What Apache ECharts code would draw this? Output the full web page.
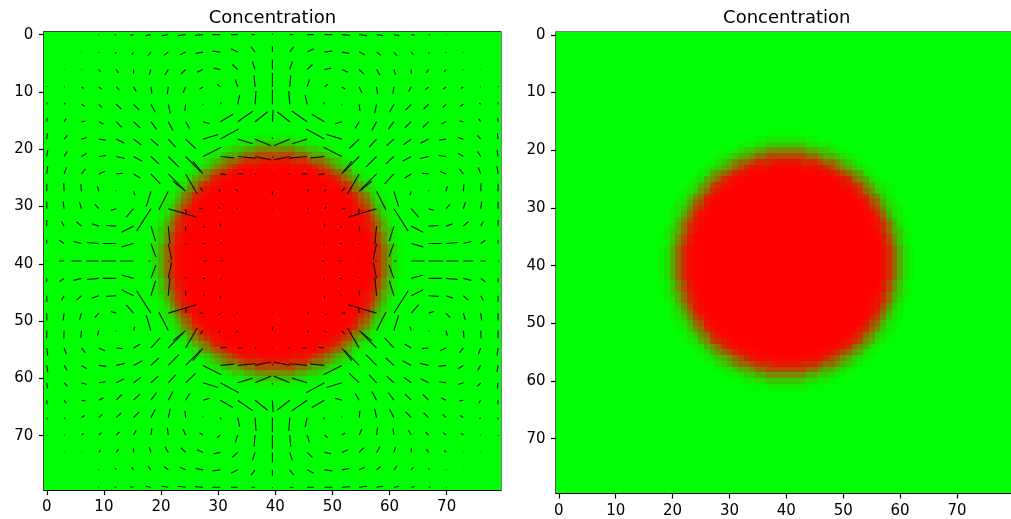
<!DOCTYPE html>
<html>
<head>
<meta charset="utf-8">
<script src="https://cdn.jsdelivr.net/npm/echarts@6/dist/echarts.min.js"></script>
<style>
  html, body { margin: 0; padding: 0; background: #ffffff; }
  #chart { width: 1011px; height: 519px; }
</style>
</head>
<body>
<div id="chart"></div>
<script>
// ---- data ---------------------------------------------------------------
const gridSize = 80;                       // cells per side
const tickValues = [0, 10, 20, 30, 40, 50, 60, 70];
const panelTitles = ['Concentration', 'Concentration'];

// droplet centre (column, row) and concentration against distance from it
const dropCentre = [40, 39.5];
const profileStart = 14;                   // distance of the first entry
const profileStep = 0.5;
const concProfile = [1, 1, 1, 1, 0.99, 0.98, 0.95, 0.9, 0.82, 0.71, 0.58,
  0.45, 0.32, 0.21, 0.12, 0.07, 0.03, 0.01, 0];

// velocity field sampled on a 27 x 27 grid; u to the right, v downwards
const quiverCount = 27;
const quiverU = [
  [0,0,0,-2,-5,-10,-16,-20,-24,-24,-24,-20,-11,0,11,20,24,24,24,20,16,10,5,2,0,0,0],
  [0,0,0,-1,-3,-6,-9,-13,-17,-22,-24,-20,-12,0,12,20,24,22,17,13,9,6,3,1,0,0,0],
  [0,1,1,5,7,0,-5,-10,-14,-18,-20,-16,-8,0,8,16,20,18,14,10,5,0,-7,-5,-1,-1,0],
  [1,2,7,8,10,8,3,-3,-8,-10,-10,-7,-3,0,3,7,10,10,8,3,-3,-8,-10,-8,-7,-2,-1],
  [1,4,10,10,15,17,13,6,-2,0,3,6,3,0,-3,-6,-3,0,2,-6,-13,-17,-15,-10,-10,-4,-1],
  [1,6,12,14,17,19,17,14,12,20,38,46,38,2,-38,-46,-38,-20,-12,-14,-17,-19,-17,-14,-12,-6,-1],
  [2,10,16,20,24,23,22,22,30,46,55,45,48,0,-48,-45,-55,-46,-30,-22,-22,-23,-24,-20,-16,-10,-2],
  [3,9,16,22,26,26,24,32,45,55,42,54,48,2,-48,-54,-42,-55,-45,-32,-24,-26,-26,-22,-16,-9,-3],
  [3,7,12,18,20,20,28,45,35,-30,18,16,3,0,-3,-16,-18,30,-35,-45,-28,-20,-20,-18,-12,-7,-3],
  [0,-1,-2,-4,0,4,-14,-28,-38,-8,-5,-6,0,0,0,6,5,8,38,28,14,-4,0,4,2,1,0],
  [0,-3,-6,-12,-16,-22,-43,85,2,-10,-6,-5,0,0,0,5,6,10,-2,-85,43,22,16,12,6,3,0],
  [0,-8,-15,-21,-30,-36,14,5,0,5,0,0,0,0,0,0,0,-5,0,-5,-14,36,30,21,15,8,0],
  [0,-14,-24,-35,-41,-36,15,10,1,8,4,0,0,0,0,0,-4,-8,-1,-10,-15,36,41,35,24,14,0],
  [-3,-15,-30,-38,-44,-40,-8,3,2,12,10,2,0,0,0,-2,-10,-12,-2,-3,8,40,44,38,30,15,3],
  [0,-14,-24,-35,-41,-36,15,10,1,8,4,0,0,0,0,0,-4,-8,-1,-10,-15,36,41,35,24,14,0],
  [0,-8,-15,-21,-30,-36,14,5,0,5,0,0,0,0,0,0,0,-5,0,-5,-14,36,30,21,15,8,0],
  [0,-3,-6,-12,-16,-22,-43,85,2,-10,-6,-5,0,0,0,5,6,10,-2,-85,43,22,16,12,6,3,0],
  [0,-1,-2,-4,0,4,-14,-28,-38,-8,-5,-6,0,0,0,6,5,8,38,28,14,-4,0,4,2,1,0],
  [3,7,12,18,20,20,28,45,35,-30,18,16,3,0,-3,-16,-18,30,-35,-45,-28,-20,-20,-18,-12,-7,-3],
  [3,9,16,22,26,26,24,32,45,55,42,54,48,2,-48,-54,-42,-55,-45,-32,-24,-26,-26,-22,-16,-9,-3],
  [2,10,16,20,24,23,22,22,30,46,55,45,48,0,-48,-45,-55,-46,-30,-22,-22,-23,-24,-20,-16,-10,-2],
  [1,6,12,14,17,19,17,14,12,20,38,46,38,2,-38,-46,-38,-20,-12,-14,-17,-19,-17,-14,-12,-6,-1],
  [1,4,10,10,15,17,13,6,-2,0,3,6,3,0,-3,-6,-3,0,2,-6,-13,-17,-15,-10,-10,-4,-1],
  [1,2,7,8,10,8,3,-3,-8,-10,-10,-7,-3,0,3,7,10,10,8,3,-3,-8,-10,-8,-7,-2,-1],
  [0,1,1,5,7,0,-5,-10,-14,-18,-20,-16,-8,0,8,16,20,18,14,10,5,0,-7,-5,-1,-1,0],
  [0,0,0,-1,-3,-6,-9,-13,-17,-22,-24,-20,-12,0,12,20,24,22,17,13,9,6,3,1,0,0,0],
  [0,0,0,-2,-5,-10,-16,-20,-24,-24,-24,-20,-11,0,11,20,24,24,24,20,16,10,5,2,0,0,0]
];
const quiverV = [
  [0,0,0,1,1,2,3,3,3,2,0,0,0,-3,0,0,0,2,3,3,3,2,1,1,0,0,0],
  [0,0,1,2,5,8,11,10,8,4,-3,-10,-16,-18,-16,-10,-3,4,8,10,11,8,5,2,1,0,0],
  [0,0,1,7,10,13,16,17,14,8,-4,-15,-24,-30,-24,-15,-4,8,14,17,16,13,10,7,1,0,0],
  [-2,-1,5,7,9,14,20,22,18,6,-8,-22,-35,-42,-35,-22,-8,6,18,22,20,14,9,7,5,-1,-2],
  [-6,-4,6,10,14,17,24,27,20,3,-6,-28,-40,-44,-40,-28,-6,3,20,27,24,17,14,10,6,-4,-6],
  [-12,-9,-2,7,17,18,23,26,20,6,-22,-32,-30,-36,-30,-32,-22,6,20,26,23,18,17,7,-2,-9,-12],
  [-17,-11,-5,3,12,17,20,24,28,-14,-30,14,20,-5,20,14,-30,-14,28,24,20,17,12,3,-5,-11,-17],
  [-20,-15,-10,-3,6,14,22,32,45,-28,4,5,10,3,10,5,4,-28,45,32,22,14,6,-3,-10,-15,-20],
  [-23,-19,-15,-8,-2,12,30,45,60,-38,2,0,1,2,1,0,2,-38,60,45,30,12,-2,-8,-15,-19,-23],
  [-23,-24,-22,-15,-3,12,46,55,-30,-10,-6,-6,0,10,0,-6,-6,-10,-30,55,46,12,-3,-15,-22,-24,-23],
  [-22,-22,-20,-13,5,25,67,25,18,0,-6,0,0,2,0,0,-6,0,18,25,67,25,5,-13,-20,-22,-22],
  [-18,-14,-13,-7,-2,18,45,54,16,5,-8,0,0,0,0,0,-8,5,16,54,45,18,-2,-7,-13,-14,-18],
  [-11,-10,-6,-3,0,10,40,48,3,0,-3,0,0,0,0,0,-3,0,3,48,40,10,0,-3,-6,-10,-11],
  [0,0,0,0,0,0,0,2,0,0,0,0,0,0,0,0,0,0,0,2,0,0,0,0,0,0,0],
  [11,10,6,3,0,-10,-40,-48,-3,0,3,0,0,0,0,0,3,0,-3,-48,-40,-10,0,3,6,10,11],
  [18,14,13,7,2,-18,-45,-54,-16,-5,8,0,0,0,0,0,8,-5,-16,-54,-45,-18,2,7,13,14,18],
  [22,22,20,13,-5,-25,-67,-25,-18,0,6,0,0,-2,0,0,6,0,-18,-25,-67,-25,-5,13,20,22,22],
  [23,24,22,15,3,-12,-46,-55,30,10,6,6,0,-10,0,6,6,10,30,-55,-46,-12,3,15,22,24,23],
  [23,19,15,8,2,-12,-30,-45,-60,38,-2,0,-1,-2,-1,0,-2,38,-60,-45,-30,-12,2,8,15,19,23],
  [20,15,10,3,-6,-14,-22,-32,-45,28,-4,-5,-10,-3,-10,-5,-4,28,-45,-32,-22,-14,-6,3,10,15,20],
  [17,11,5,-3,-12,-17,-20,-24,-28,14,30,-14,-20,5,-20,-14,30,14,-28,-24,-20,-17,-12,-3,5,11,17],
  [12,9,2,-7,-17,-18,-23,-26,-20,-6,22,32,30,36,30,32,22,-6,-20,-26,-23,-18,-17,-7,2,9,12],
  [6,4,-6,-10,-14,-17,-24,-27,-20,-3,6,28,40,44,40,28,6,-3,-20,-27,-24,-17,-14,-10,-6,4,6],
  [2,1,-5,-7,-9,-14,-20,-22,-18,-6,8,22,35,42,35,22,8,-6,-18,-22,-20,-14,-9,-7,-5,1,2],
  [0,0,-1,-7,-10,-13,-16,-17,-14,-8,4,15,24,30,24,15,4,-8,-14,-17,-16,-13,-10,-7,-1,0,0],
  [0,0,-1,-2,-5,-8,-11,-10,-8,-4,3,10,16,18,16,10,3,-4,-8,-10,-11,-8,-5,-2,-1,0,0],
  [0,0,0,-1,-1,-2,-3,-3,-3,-2,0,0,0,3,0,0,0,-2,-3,-3,-3,-2,-1,-1,0,0,0]
];
const quiverScale = 1 / 17.15;             // velocity units -> cells

// ---- build cells --------------------------------------------------------
function concAt(col, row) {
  const r = Math.hypot(col - dropCentre[0], row - dropCentre[1]);
  const idx = Math.round((r - profileStart) / profileStep);
  if (idx < 0) return 1;
  if (idx >= concProfile.length) return 0;
  return concProfile[idx];
}
const cells = [];
for (let row = 0; row < gridSize; row++) {
  for (let col = 0; col < gridSize; col++) {
    cells.push([col, row, concAt(col, row)]);
  }
}
const arrows = [];
const pitch = (gridSize - 1) / (quiverCount - 1);
for (let i = 0; i < quiverU.length; i++) {
  for (let j = 0; j < quiverU[i].length; j++) {
    arrows.push([j * pitch, i * pitch, quiverU[i][j], quiverV[i][j]]);
  }
}

function colour(c) {
  const r = Math.round(255 * c), g = Math.round(255 * (1 - c));
  return 'rgb(' + r + ',' + g + ',0)';
}

function renderCell(params, api) {
  const x = api.value(0), y = api.value(1);
  const p0 = api.coord([x - 0.5, y - 0.5]);
  const p1 = api.coord([x + 0.5, y + 0.5]);
  const x0 = Math.round(Math.min(p0[0], p1[0])), x1 = Math.round(Math.max(p0[0], p1[0]));
  const y0 = Math.round(Math.min(p0[1], p1[1])), y1 = Math.round(Math.max(p0[1], p1[1]));
  return {
    type: 'rect',
    shape: { x: x0, y: y0, width: x1 - x0, height: y1 - y0 },
    style: { fill: colour(api.value(2)) },
    silent: true
  };
}

function renderArrow(params, api) {
  const x = api.value(0), y = api.value(1);
  const u = api.value(2), v = api.value(3);
  const a = api.coord([x, y]);
  const b = api.coord([x + u * quiverScale, y + v * quiverScale]);
  return {
    type: 'line',
    shape: { x1: a[0], y1: a[1], x2: b[0], y2: b[1] },
    style: { stroke: 'rgba(0,0,0,0.88)', lineWidth: 1.15 },
    silent: true
  };
}

const font = 'DejaVu Sans';
function xAxis(gridIndex) {
  return {
    type: 'value', gridIndex, min: -0.5, max: 79.5,
    axisLine: { show: true, onZero: false, lineStyle: { color: '#000', width: 1.2 } },
    axisTick: { show: true, customValues: tickValues, length: 5, lineStyle: { color: '#000', width: 1.2 } },
    axisLabel: { show: true, customValues: tickValues, margin: 10, color: '#000', fontSize: 15, fontFamily: font },
    splitLine: { show: false }
  };
}
function yAxis(gridIndex) {
  return {
    type: 'value', gridIndex, min: -0.5, max: 79.5, inverse: true,
    axisLine: { show: true, onZero: false, lineStyle: { color: '#000', width: 1.2 } },
    axisTick: { show: true, customValues: tickValues, length: 5, lineStyle: { color: '#000', width: 1.2 } },
    axisLabel: { show: true, customValues: tickValues, margin: 10.5, color: '#000', fontSize: 15, fontFamily: font },
    splitLine: { show: false }
  };
}

const grids = [
  { left: 43.9, top: 31.8, width: 457, height: 458.3 },
  { left: 556, top: 32, width: 461.5, height: 461.5 }
];

const chart = echarts.init(document.getElementById('chart'), null, { renderer: 'canvas' });
chart.setOption({
  animation: false,
  backgroundColor: '#ffffff',
  grid: grids.map(g => Object.assign({ containLabel: false, show: true, borderColor: '#000', borderWidth: 1.2, backgroundColor: 'transparent' }, g)),
  xAxis: [xAxis(0), xAxis(1)],
  yAxis: [yAxis(0), yAxis(1)],
  graphic: panelTitles.map((t, i) => ({
    type: 'text',
    x: grids[i].left + grids[i].width / 2,
    y: 18.5,
    style: { text: t, font: '18px "DejaVu Sans"', fill: '#000', align: 'center', verticalAlign: 'middle' },
    silent: true
  })),
  series: [
    { type: 'custom', xAxisIndex: 0, yAxisIndex: 0, data: cells, renderItem: renderCell, clip: true, z: 1 },
    { type: 'custom', xAxisIndex: 1, yAxisIndex: 1, data: cells, renderItem: renderCell, clip: true, z: 1 },
    { type: 'custom', xAxisIndex: 0, yAxisIndex: 0, data: arrows, renderItem: renderArrow, clip: true, z: 2 }
  ]
});
</script>
</body>
</html>
